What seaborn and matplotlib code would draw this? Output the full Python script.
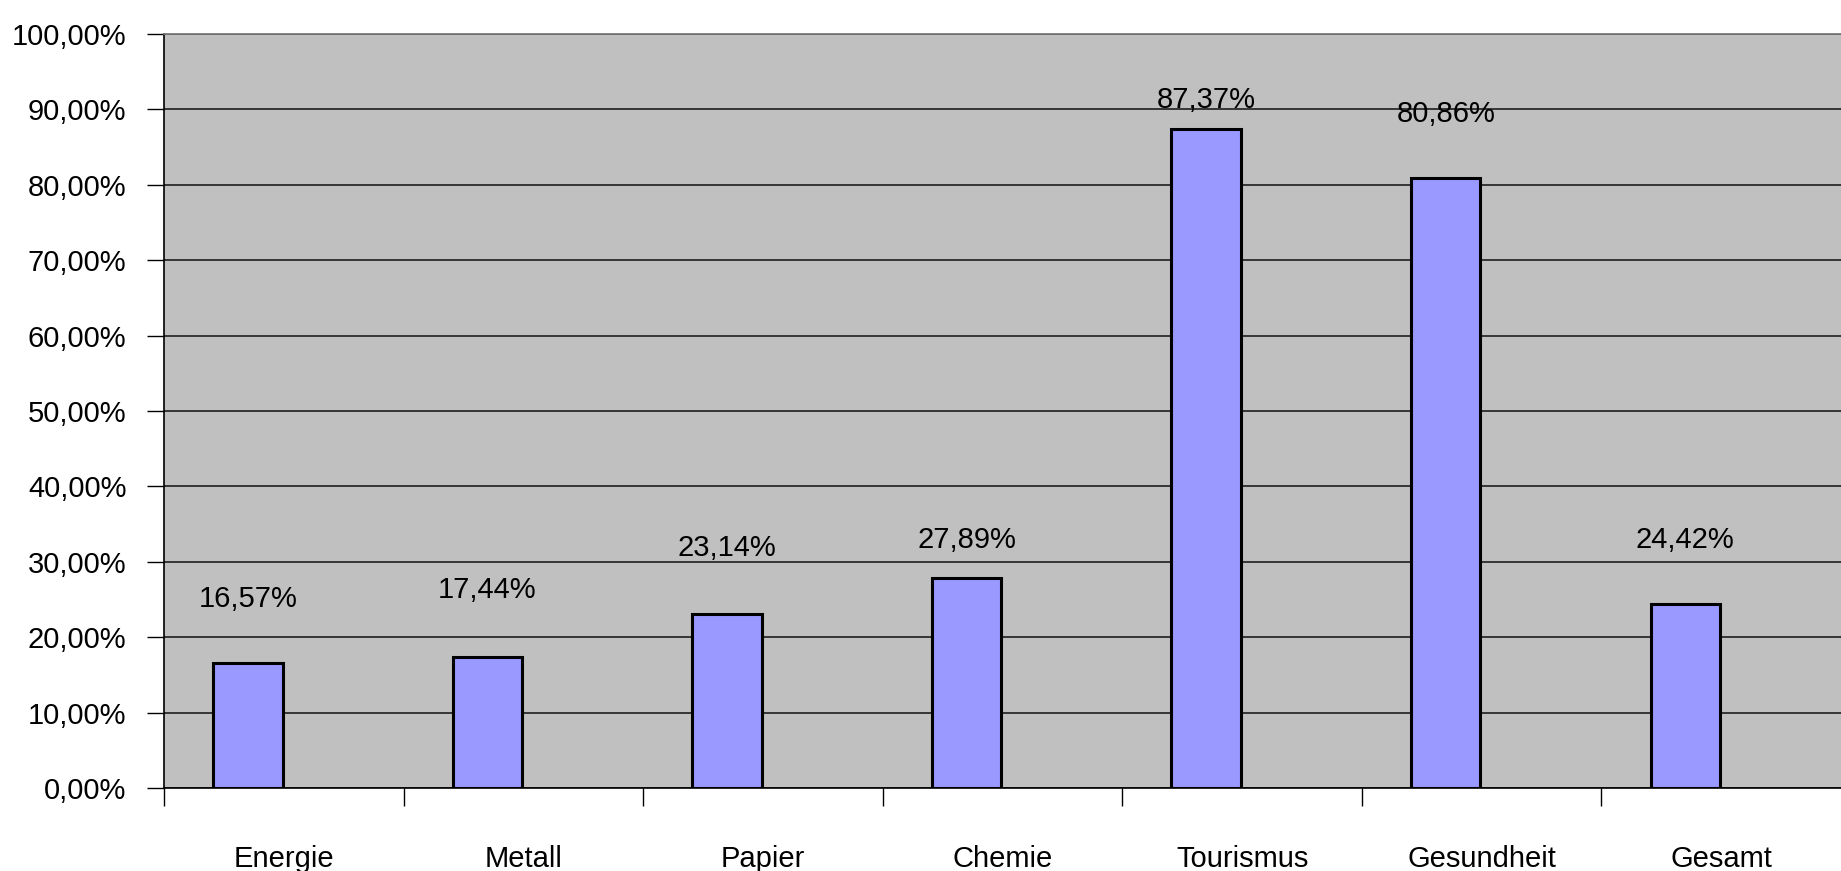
import numpy as np
import pandas as pd
import matplotlib
matplotlib.use("Agg")
import matplotlib.pyplot as plt
import seaborn as sns

# data
categories = ["Energie", "Metall", "Papier", "Chemie", "Tourismus", "Gesundheit", "Gesamt"]
values = [16.57, 17.44, 23.14, 27.89, 87.37, 80.86, 24.42]
# heights (in %) where the value labels sit in the original
label_pos = [25.1, 26.2, 31.8, 32.9, 91.3, 89.4, 32.9]
y_ticks = [0, 10, 20, 30, 40, 50, 60, 70, 80, 90, 100]

sns.set_theme(style="white")
plt.rcParams["font.family"] = ["Liberation Sans", "DejaVu Sans"]
plt.rcParams["text.color"] = "black"
plt.rcParams["xtick.color"] = "black"
plt.rcParams["ytick.color"] = "black"

df = pd.DataFrame({"kategorie": categories, "wert": values})

fig = plt.figure(figsize=(18.41, 8.71), dpi=100)
ax = fig.add_axes([164 / 1841, 1 - 788 / 871, 1 - 164 / 1841, (788 - 34) / 871])
ax.set_facecolor("#c0c0c0")

sns.barplot(data=df, x="kategorie", y="wert", color="#9999ff", width=0.29,
            edgecolor="black", linewidth=2.2, saturation=1, ax=ax)

# the original had an empty second series, so bars sit left of the category centre
for bar in ax.patches:
    bar.set_x(bar.get_x() - 0.15)

ax.set_xlim(-0.5, len(categories) - 0.5)
ax.set_ylim(0, 100)
ax.set_axisbelow(True)

ax.set_yticks(y_ticks)
ax.set_yticklabels([f"{t:.2f}%".replace(".", ",") for t in y_ticks], fontsize=21)
ax.yaxis.grid(True, color="#111111", linewidth=1.1)
ax.tick_params(axis="y", which="major", length=12, width=1, color="black", pad=15, left=True)

# x ticks: labels at centres, marks at the boundaries
ax.set_xticks(range(len(categories)))
ax.set_xticklabels(categories, fontsize=21)
ax.tick_params(axis="x", which="major", length=0, pad=41)
ax.set_xticks(np.arange(-0.5, len(categories) - 0.5, 1.0), minor=True)
ax.tick_params(axis="x", which="minor", length=13, width=1, color="black", bottom=True)

ax.set_xlabel("")
ax.set_ylabel("")

ax.spines["right"].set_visible(False)
ax.spines["top"].set_color("#777777")
ax.spines["left"].set_color("black")
ax.spines["bottom"].set_color("black")
ax.spines["left"].set_linewidth(1.2)
ax.spines["bottom"].set_linewidth(1.2)

# value labels over the bars
for bar, v, yl in zip(ax.patches, values, label_pos):
    xc = bar.get_x() + bar.get_width() / 2
    ax.text(xc, yl, f"{v:.2f}%".replace(".", ","), ha="center", va="center", fontsize=21)

fig.savefig("out.png", dpi=100)
